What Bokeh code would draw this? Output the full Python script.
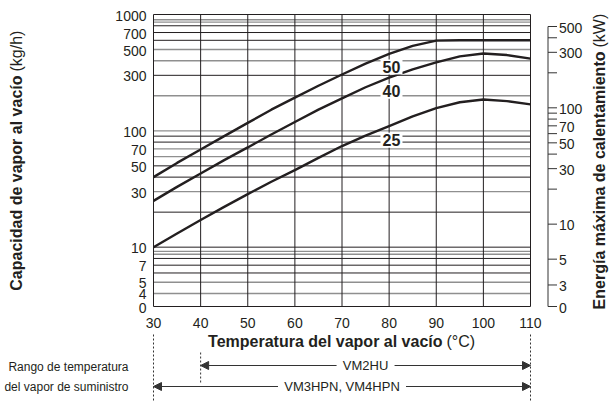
import math
from bokeh.plotting import figure
from bokeh.models import Range1d, LogScale, LinearScale, Arrow, NormalHead
from bokeh.core.properties import value
from bokeh.embed import file_html
from bokeh.resources import INLINE

# ---------------- data ----------------
temps = [30, 35, 40, 45, 50, 55, 60, 65, 70, 75, 80, 85, 90, 95, 100, 105, 110]
cap_50 = [40, 53, 69, 90, 117, 152, 193, 244, 305, 378, 458, 538, 596, 600, 600, 600, 600]
cap_40 = [25, 33, 43, 56, 72, 93, 119, 152, 190, 237, 287, 338, 387, 437, 462, 448, 418]
cap_25 = [10, 13.1, 17.1, 22.2, 28.6, 36.5, 46, 58.5, 74, 91, 110, 133, 157, 176, 186, 180, 169]
curve_names = ["50", "40", "25"]
curve_label_t = [80.5, 80.5, 80.5]
curve_label_cap = [353, 219, 83]

x_ticks = [30, 40, 50, 60, 70, 80, 90, 100, 110]
x_labels = ["30", "40", "50", "60", "70", "80", "90", "100", "110"]
y_bottom = 3.09
y_top = 1000
y_ticks = [1000, 700, 500, 300, 100, 70, 50, 30, 10, 7, 5, 4, 3.09]
y_labels = ["1000", "700", "500", "300", "100", "70", "50", "30", "10", "7", "5", "4", "0"]
grid_dark = [800, 700, 600, 300, 90, 80, 50, 40, 20, 10, 8, 7, 6]
grid_light = [900, 860, 500, 400, 200, 100, 70, 60, 30, 9.2, 8.7, 5, 4]

kgh_per_kw = 1.577
kw_bottom = y_bottom / kgh_per_kw
kw_top_tick = 500
kw_ticks = [500, 400, 300, 200, 100, 90, 80, 70, 60, 50, 40, 30, 20, 10, 5, 3, kw_bottom]
kw_label_ticks = [500, 300, 100, 70, 50, 30, 10, 5, 3, kw_bottom]
kw_labels = ["500", "300", "100", "70", "50", "30", "10", "5", "3", "0"]

model_ranges = [(40, 110), (30, 110)]
model_names = ["VM2HU", "VM3HPN, VM4HPN"]

INK = "#231f20"
GREY = "#333333"
LIGHT = "#8f8f8f"
FONT = "Liberation Sans"

# ---------------- layout (canvas pixels) ----------------
W, H = 609, 401
PX_L, PX_R, PX_T, PX_B = 153, 530, 14, 306
ppd = (PX_R - PX_L) / (x_ticks[-1] - x_ticks[0])
ppdec = (PX_B - PX_T) / math.log10(y_top / y_bottom)
x0 = x_ticks[0] - PX_L / ppd
x1 = x_ticks[0] + (W - PX_L) / ppd
y1 = y_top * 10 ** (PX_T / ppdec)
y0 = y_bottom / 10 ** ((H - PX_B) / ppdec)

p = figure(width=W, height=H, x_range=Range1d(x0, x1), y_range=Range1d(y0, y1),
           x_axis_type=None, y_axis_type=None, min_border=0,
           output_backend="svg", toolbar_location=None)
p.y_scale = LogScale()
p.outline_line_color = None
p.background_fill_color = "white"
p.border_fill_color = "white"
p.extra_y_ranges = {"kw": Range1d(y0 / kgh_per_kw, y1 / kgh_per_kw),
                    "px": Range1d(H, 0)}
p.extra_y_scales = {"kw": LogScale(), "px": LinearScale()}
p.extra_x_ranges = {"px": Range1d(0, W)}
p.extra_x_scales = {"px": LinearScale()}

# ---------------- grid & frame ----------------
n = len(grid_light)
p.segment(x0=[x_ticks[0]] * n, x1=[x_ticks[-1]] * n, y0=grid_light, y1=grid_light,
          line_color=LIGHT, line_width=1.4)
n = len(grid_dark)
p.segment(x0=[x_ticks[0]] * n, x1=[x_ticks[-1]] * n, y0=grid_dark, y1=grid_dark,
          line_color=INK, line_width=1)
inner = x_ticks[1:-1]
p.segment(x0=inner, x1=inner, y0=[y_bottom] * len(inner), y1=[y_top] * len(inner),
          line_color=INK, line_width=1)
p.quad(left=[x_ticks[0]], right=[x_ticks[-1]], bottom=[y_bottom], top=[y_top],
       fill_color=None, line_color=INK, line_width=1)

# ---------------- curves ----------------
for ys in (cap_50, cap_40, cap_25):
    p.line(temps, ys, line_width=2.4, line_color=INK)

p.rect(x=curve_label_t, y=curve_label_cap, width=22, height=15,
       width_units="screen", height_units="screen", fill_color="white", line_color=None)
p.text(x=curve_label_t, y=curve_label_cap, text=curve_names, text_align="center",
       text_baseline="middle", text_font=value(FONT), text_font_style="bold",
       text_font_size="16px", text_color=INK)

# ---------------- left axis labels ----------------
p.text(x=[PX_L - 7] * len(y_ticks), y=y_ticks, text=y_labels, x_range_name="px",
       text_align="right", text_baseline="middle", y_offset=1,
       text_font=value(FONT), text_font_size="14px", text_color=INK)

# ---------------- bottom axis labels ----------------
p.text(x=x_ticks, y=[PX_B + 16] * len(x_ticks), text=x_labels, y_range_name="px",
       text_align="center", text_baseline="middle",
       text_font=value(FONT), text_font_size="14px", text_color=INK)

# ---------------- right (kW) axis ----------------
AX_R = 547.5
p.segment(x0=[AX_R], x1=[AX_R], y0=[kw_bottom], y1=[kw_top_tick],
          x_range_name="px", y_range_name="kw", line_color=GREY, line_width=1)
p.segment(x0=[AX_R] * len(kw_ticks), x1=[AX_R + 9] * len(kw_ticks), y0=kw_ticks,
          y1=kw_ticks, x_range_name="px", y_range_name="kw", line_color=GREY,
          line_width=1)
p.text(x=[AX_R + 11] * len(kw_label_ticks), y=kw_label_ticks, text=kw_labels,
       x_range_name="px", y_range_name="kw", text_align="left",
       text_baseline="middle", y_offset=1, text_font=value(FONT),
       text_font_size="14px", text_color=INK)

# ---------------- axis titles ----------------
def title_pair(x, y, bold, normal, angle, gap=4):
    if angle == 0:
        xb, yb, xn, yn = x - gap / 2, y, x + gap / 2, y
    else:
        xb, yb, xn, yn = x, y + gap / 2, x, y - gap / 2
    p.text(x=[xb], y=[yb], text=[bold], x_range_name="px", y_range_name="px",
           angle=angle, text_align="right", text_baseline="middle",
           text_font=value(FONT), text_font_style="bold", text_font_size="16px",
           text_color=INK)
    p.text(x=[xn], y=[yn], text=[normal], x_range_name="px", y_range_name="px",
           angle=angle, text_align="left", text_baseline="middle",
           text_font=value(FONT), text_font_size="16px", text_color=INK)

title_pair(444, 341, "Temperatura del vapor al vacío", "(°C)", 0)
title_pair(16, 73, "Capacidad de vapor al vacío", "(kg/h)", math.pi / 2)
title_pair(599, 49, "Energía máxima de calentamiento", "(kW)", math.pi / 2)

# ---------------- supply temperature ranges ----------------
p.segment(x0=[30, 110], x1=[30, 110], y0=[334, 334], y1=[H, H], y_range_name="px",
          line_color=GREY, line_width=1, line_dash="2 2")
p.segment(x0=[40], x1=[40], y0=[352], y1=[383], y_range_name="px",
          line_color=GREY, line_width=1, line_dash="2 2")

arrow_y = [365, 386]
box_w = [58, 128]
for (a, b), yv in zip(model_ranges, arrow_y):
    p.add_layout(Arrow(start=NormalHead(size=8, fill_color=GREY, line_color=GREY),
                       end=NormalHead(size=8, fill_color=GREY, line_color=GREY),
                       x_start=a, x_end=b, y_start=yv, y_end=yv, y_range_name="px",
                       line_color=GREY, line_width=1, level="underlay"))
mids = [(a + b) / 2 for a, b in model_ranges]
p.rect(x=mids, y=arrow_y, width=box_w, height=[14, 14], y_range_name="px",
       width_units="screen", height_units="screen", fill_color="white", line_color=None)
p.text(x=mids, y=arrow_y, text=model_names, y_range_name="px", text_align="center",
       text_baseline="middle", text_font=value(FONT), text_font_size="13px",
       text_color=INK)

p.text(x=[128, 128], y=[366, 386],
       text=["Rango de temperatura", "del vapor de suministro"],
       x_range_name="px", y_range_name="px", text_align="right",
       text_baseline="middle", text_font=value(FONT), text_font_size="12px",
       text_color=INK)

open("out.html", "w").write(file_html(p, INLINE))
